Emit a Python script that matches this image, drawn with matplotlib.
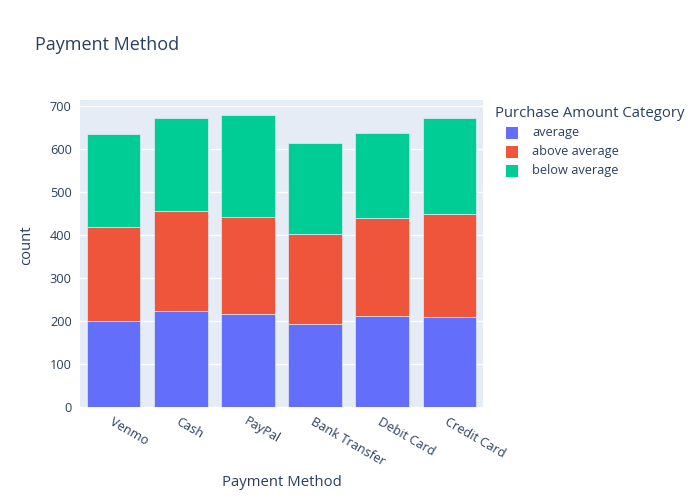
import matplotlib
matplotlib.use("Agg")
import matplotlib.pyplot as plt
from matplotlib.patches import Rectangle
import numpy as np

plt.rcParams['font.family'] = ['Open Sans', 'DejaVu Sans']

methods = ["Venmo", "Cash", "PayPal", "Bank Transfer", "Debit Card", "Credit Card"]
series_names = ["average", "above average", "below average"]
average = [199, 223, 216, 192, 212, 208]
above_average = [219, 231, 225, 210, 226, 239]
below_average = [216, 217, 237, 210, 198, 224]
colors = ["#636EFA", "#EF553B", "#00CC96"]
yticks = [0, 100, 200, 300, 400, 500, 600, 700]

txt = "#2a3f5f"
W, H = 700, 500
fig = plt.figure(figsize=(7, 5), dpi=100)
ax = fig.add_axes([80/W, (H-406.7)/H, 403/W, 306.7/H])
ax.set_facecolor("#E5ECF6")

x = np.arange(len(methods))
bottom = np.zeros(len(methods))
for name, vals, c in zip(series_names, [average, above_average, below_average], colors):
    ax.bar(x, vals, width=0.8, bottom=bottom, color=c, edgecolor="#E5ECF6",
           linewidth=0.5, label=name, zorder=3)
    bottom = bottom + np.array(vals)

ax.set_xlim(-0.5, len(methods) - 0.5)
ax.set_ylim(0, 713)
ax.set_yticks(yticks)
ax.set_yticklabels([str(t) for t in yticks], fontsize=9.2, color=txt)
ax.grid(axis="y", color="white", linewidth=1, zorder=0)
ax.set_axisbelow(True)
for s in ax.spines.values():
    s.set_visible(False)
ax.tick_params(axis="both", length=0, pad=6)
ax.set_xticks(x)
ax.set_xticklabels(methods, rotation=-30, ha="left", va="top", fontsize=9.2, color=txt,
                   rotation_mode="anchor")

fig.text(35/W, 1 - 45/H, "Payment Method", fontsize=13, color=txt, va="center", ha="left")
fig.text(27/W, 1 - 245/H, "count", fontsize=10.75, color=txt, va="center", ha="center", rotation=90)
fig.text(282/W, 1 - 483/H, "Payment Method", fontsize=10.75, color=txt, va="center", ha="center")

# legend
fig.text(495/W, 1 - 113.5/H, "Purchase Amount Category", fontsize=10.75, color=txt,
         va="center", ha="left")
for i, (name, c) in enumerate(zip(series_names, colors)):
    yc = 132.7 + 19 * i
    fig.patches.append(Rectangle((506/W, 1 - (yc + 6)/H), 12/W, 12/H,
                                 transform=fig.transFigure, facecolor=c,
                                 edgecolor="none", figure=fig))
    fig.text(532/W, 1 - yc/H, name, fontsize=9.2, color=txt, va="center", ha="left")

fig.savefig("out.png", dpi=100)
